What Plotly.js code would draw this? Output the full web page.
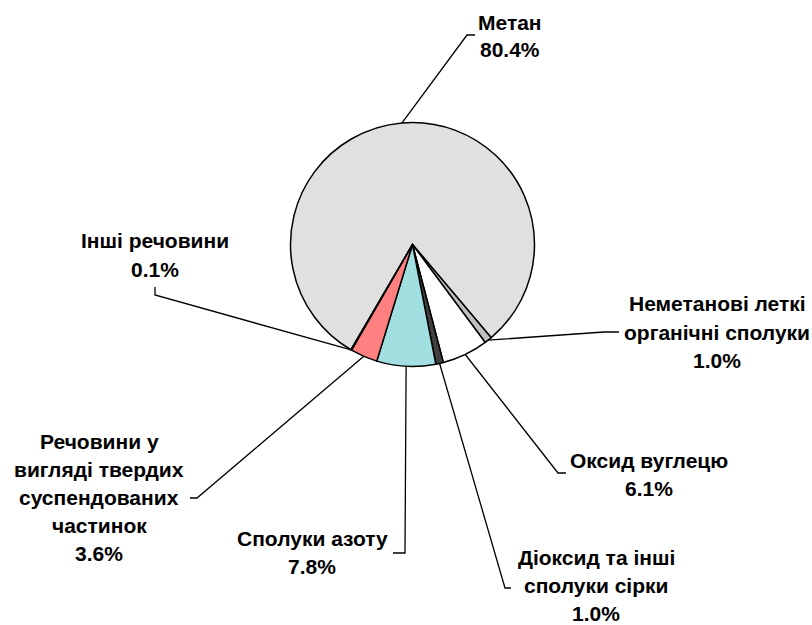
<!DOCTYPE html>
<html><head><meta charset="utf-8">
<script src="https://cdn.plot.ly/plotly-3.0.1.min.js"></script>
<style>html,body{margin:0;padding:0;background:#fff;}#chart{width:812px;height:625px;}</style>
</head><body><div id="chart"></div>
<script>
// ---- data ----
var categories = ['Метан', 'Неметанові леткі органічні сполуки', 'Оксид вуглецю', 'Діоксид та інші сполуки сірки', 'Сполуки азоту', 'Речовини у вигляді твердих суспендованих частинок', 'Інші речовини'];
var values = [80.4, 1.0, 6.1, 1.0, 7.8, 3.6, 0.1];
var labelLines = [
  ['Метан'],
  ['Неметанові леткі', 'органічні сполуки'],
  ['Оксид вуглецю'],
  ['Діоксид та інші', 'сполуки сірки'],
  ['Сполуки азоту'],
  ['Речовини у', 'вигляді твердих', 'суспендованих', 'частинок'],
  ['Інші речовини']
];
var colors = ['#e0e0e0', '#c0c0c0', '#ffffff', '#404040', '#a2dfe0', '#ff8080', '#9999ff'];

// ---- layout geometry ----
var W = 812, H = 625;
var cx = 412.5, cy = 244.5, R = 122;
var rotation = 210.36;
// label placement: [centerX, middleY], elbow point, tick end
var labelPos = [[510, 36], [717, 332], [649, 474], [596, 585], [312, 552], [99, 497], [155, 255]];
var elbows = [[467, 35], [604, 332], [558, 473], [505, 588], [405, 553], [197, 498], [155, 295]];
var ticks = [[475, 35], [619, 332], [566, 473], [511, 588], [393, 553], [190, 498], [155, 287]];
var lineGap = 28;

function px(x) { return x / W; }
function py(y) { return 1 - y / H; }

var total = values.reduce(function (a, b) { return a + b; }, 0);
var shapes = [], annotations = [];
var start = rotation;
var font = {family: 'Liberation Sans, Arial, sans-serif', size: 21, color: '#000', weight: 'bold'};
for (var i = 0; i < values.length; i++) {
  var span = values[i] / total * 360;
  var mid = (start + span / 2) * Math.PI / 180;
  start += span;
  var sx = cx + R * Math.sin(mid), sy = cy - R * Math.cos(mid);
  var e = elbows[i], t = ticks[i];
  shapes.push({
    type: 'path', xref: 'paper', yref: 'paper',
    path: 'M' + px(sx) + ',' + py(sy) + ' L' + px(e[0]) + ',' + py(e[1]) + ' L' + px(t[0]) + ',' + py(t[1]),
    line: {color: '#000', width: 1.3}
  });
  var lines = labelLines[i].concat([values[i].toFixed(1) + '%']);
  var n = lines.length;
  for (var k = 0; k < n; k++) {
    annotations.push({
      xref: 'paper', yref: 'paper', showarrow: false,
      x: px(labelPos[i][0]), y: py(labelPos[i][1] + (k - (n - 1) / 2) * lineGap),
      xanchor: 'center', yanchor: 'middle',
      text: lines[k], font: font
    });
  }
}

var trace = {
  type: 'pie', labels: categories, values: values, sort: false,
  direction: 'clockwise', rotation: rotation,
  marker: {colors: colors, line: {color: '#000', width: 1.5}},
  textinfo: 'none', hoverinfo: 'label+percent',
  domain: {x: [px(cx - R), px(cx + R)], y: [py(cy + R), py(cy - R)]}
};

var layout = {
  width: W, height: H, margin: {l: 0, r: 0, t: 0, b: 0},
  paper_bgcolor: '#fff', plot_bgcolor: '#fff', showlegend: false,
  shapes: shapes, annotations: annotations
};
Plotly.newPlot('chart', [trace], layout, {displayModeBar: false, staticPlot: true});
</script></body></html>
